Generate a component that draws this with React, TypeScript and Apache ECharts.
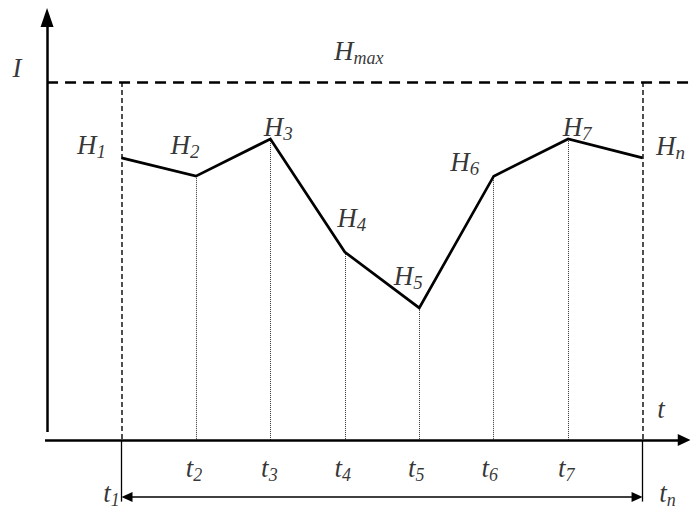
import React, { useEffect, useRef } from "react";
import * as echarts from "echarts";

// ---- data ----
const tValues = [1, 2, 3, 4, 5, 6, 7, 8];
const hValues = [0.788, 0.737, 0.841, 0.525, 0.369, 0.737, 0.841, 0.788];
const hSubs = ["1", "2", "3", "4", "5", "6", "7", "n"];
const tSubs = ["1", "2", "3", "4", "5", "6", "7", "n"];
const hMax = 1;

// ---- layout (pixel offsets of labels) ----
const hLabelOffsets = [
  [-30, -13], [-11, -31], [8, -12], [7, -34], [-11, -32], [-29, -14], [9, -12], [28, -12],
];
const tLabelOffsets = [
  [-10, 53], [-2, 28], [-1, 28], [-2, 28], [-3, 28], [-4, 28], [-2, 28], [25, 53],
];

const X_MIN = -0.632;
const X_MAX = 8.637;
const Y_MIN = -0.1983;
const Y_MAX = 1.2291;

const FONT = '"Liberation Serif", "Times New Roman", serif';
const rich = {
  m: { fontFamily: FONT, fontStyle: "italic", fontSize: 27, lineHeight: 32, color: "#000" },
  s: { fontFamily: FONT, fontStyle: "italic", fontSize: 19, lineHeight: 19, verticalAlign: "bottom", color: "#000" },
  ts: { fontFamily: FONT, fontStyle: "italic", fontSize: 18, lineHeight: 18, verticalAlign: "bottom", color: "#000" },
};

export default function App() {
  const ref = useRef<HTMLDivElement>(null);
  useEffect(() => {
    document.body.style.margin = "0";
    const chart = echarts.init(ref.current!, null, { renderer: "svg" });
    const first = tValues[0];
    const last = tValues[tValues.length - 1];
    const dotted = tValues.slice(1, -1).map((t, i) => [
      { coord: [t, hValues[i + 1]], symbol: "none", lineStyle: { type: "dotted", width: 1, color: "#333" } },
      { coord: [t, 0], symbol: "none" },
    ]);
    const verticalsDashed = [first, last].map((t) => [
      { coord: [t, hMax], symbol: "none", lineStyle: { type: [5, 3], width: 1.6, color: "#222" } },
      { coord: [t, 0], symbol: "none" },
    ]);
    const verticalsSolid = [first, last].map((t) => [
      { coord: [t, 0], symbol: "none", lineStyle: { type: "solid", width: 1.3, color: "#000" } },
      { coord: [t, -0.172], symbol: "none" },
    ]);
    const markData: any[] = [
      ...dotted,
      ...verticalsDashed,
      ...verticalsSolid,
      // Hmax dashed line
      [
        { coord: [0, hMax], symbol: "none", lineStyle: { type: [11, 7], width: 2.5, color: "#000" } },
        { coord: [X_MAX, hMax], symbol: "none" },
      ],
      // y axis
      [
        { coord: [0, 0.0223], symbol: "none", lineStyle: { type: "solid", width: 2.5, color: "#000" } },
        { coord: [0, 1.18], symbol: "triangle", symbolSize: [13, 19] },
      ],
      // x axis
      [
        { coord: [-0.027, 0], symbol: "none", lineStyle: { type: "solid", width: 2.5, color: "#000" } },
        { coord: [8.56, 0], symbol: "triangle", symbolSize: [12, 13] },
      ],
      // interval double arrow
      [
        { coord: [first + 0.074, -0.159], symbol: "triangle", symbolSize: [10, 11], lineStyle: { type: "solid", width: 1.5, color: "#000" } },
        { coord: [last - 0.074, -0.159], symbol: "triangle", symbolSize: [10, 11] },
      ],
    ];

    chart.setOption({
      animation: false,
      grid: { left: 0, right: 0, top: 0, bottom: 0 },
      xAxis: { type: "value", min: X_MIN, max: X_MAX, show: false },
      yAxis: { type: "value", min: Y_MIN, max: Y_MAX, show: false },
      series: [
        {
          type: "line",
          data: tValues.map((t, i) => [t, hValues[i]]),
          showSymbol: false,
          symbol: "none",
          clip: false,
          z: 5,
          lineStyle: { color: "#000", width: 2.7, join: "miter" },
          silent: true,
          markLine: {
            silent: true,
            animation: false,
            label: { show: false },
            symbol: ["none", "none"],
            itemStyle: { color: "#000" },
            data: markData,
          },
        },
        {
          type: "scatter",
          symbolSize: 0,
          silent: true,
          clip: false,
          data: tValues.map((t, i) => ({
            value: [t, hValues[i]],
            label: {
              show: true,
              position: "inside",
              offset: hLabelOffsets[i],
              formatter: `{m|H}{s|${hSubs[i]}}`,
              rich,
            },
          })),
        },
        {
          type: "scatter",
          symbolSize: 0,
          silent: true,
          clip: false,
          data: tValues.map((t, i) => ({
            value: [t, 0],
            label: {
              show: true,
              position: "inside",
              offset: tLabelOffsets[i],
              formatter: `{m|t}{ts|${tSubs[i]}}`,
              rich,
            },
          })),
        },
        {
          type: "scatter",
          symbolSize: 0,
          silent: true,
          clip: false,
          data: [
            { value: [4.0, hMax], label: { show: true, position: "inside", offset: [14, -31], formatter: "{m|H}{ts|max}", rich } },
            { value: [0, hMax], label: { show: true, position: "inside", offset: [-30, -14], formatter: "{m|I}", rich } },
            { value: [X_MAX, 0], label: { show: true, position: "inside", offset: [-29, -31], formatter: "{m|t}", rich } },
          ],
        },
      ],
    });
    return () => chart.dispose();
  }, []);
  return <div ref={ref} style={{ width: 690, height: 511 }} />;
}
